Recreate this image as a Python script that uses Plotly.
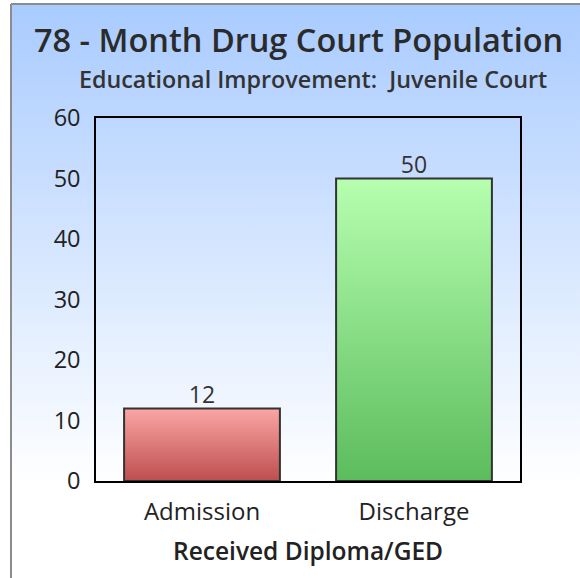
import base64
import plotly.graph_objects as go

# ---- data ----
categories = ["Admission", "Discharge"]
values = [12, 50]
y_ticks = [0, 10, 20, 30, 40, 50, 60]
title = "78 - Month Drug Court Population"
subtitle = "Educational Improvement:  Juvenile Court"
x_title = "Received Diploma/GED"

# ---- style ----
W, H = 580, 578
bar_half = 0.3675
bar_top_colors = ["#fba6a6", "#b6ffb0"]
bar_bottom_colors = ["#be4e4e", "#5cbc5c"]
FONT = "Open Sans"

def px(x):
    return x / W

def py(y):
    return 1 - y / H

svg = (
    f'<svg xmlns="http://www.w3.org/2000/svg" width="{W}" height="{H}" viewBox="0 0 {W} {H}" preserveAspectRatio="none">'
    '<defs><linearGradient id="g" x1="0" y1="0" x2="0" y2="1">'
    '<stop offset="0" stop-color="#a9cbff"/><stop offset="1" stop-color="#ffffff"/>'
    '</linearGradient></defs>'
    f'<rect x="11" y="4" width="{W-11}" height="480" fill="url(#g)"/>'
    '</svg>'
)
svg_uri = "data:image/svg+xml;base64," + base64.b64encode(svg.encode()).decode()

fig = go.Figure()

for i, (cat, v) in enumerate(zip(categories, values)):
    xs = [i - bar_half, i - bar_half, i + bar_half, i + bar_half, i - bar_half]
    ys = [0, v, v, 0, 0]
    fig.add_trace(go.Scatter(
        x=xs, y=ys, mode="lines", fill="toself",
        fillgradient=dict(type="vertical",
                          colorscale=[[0, bar_bottom_colors[i]], [1, bar_top_colors[i]]]),
        line=dict(color="#333333", width=2),
        hoverinfo="skip", showlegend=False,
    ))

fig.add_trace(go.Scatter(
    x=list(range(len(categories))), y=values, mode="text",
    text=[str(v) for v in values], textposition="top center",
    textfont=dict(family=FONT, size=23, color="#333333"),
    showlegend=False, hoverinfo="skip",
))

fig.update_layout(
    width=W, height=H,
    margin=dict(l=0, r=0, t=0, b=0, pad=0),
    paper_bgcolor="white",
    plot_bgcolor="rgba(0,0,0,0)",
    font=dict(family=FONT, size=23, color="#333333"),
    xaxis=dict(
        domain=[px(96), px(520)], range=[-0.5, 1.5], automargin=False,
        tickvals=list(range(len(categories))), ticktext=categories,
        showline=True, mirror=True, linecolor="black", linewidth=1.5,
        showgrid=False, zeroline=False, ticks="", ticklabelstandoff=8,
        tickfont=dict(family=FONT, size=24, color="#222222"),
        fixedrange=True,
    ),
    yaxis=dict(
        domain=[py(481), py(118)], range=[0, 60], automargin=False,
        tickvals=y_ticks,
        showline=True, mirror=True, linecolor="black", linewidth=1.5,
        showgrid=False, zeroline=False, ticks="", ticklabelstandoff=9,
        tickfont=dict(family=FONT, size=23.5, color="#222222"),
        fixedrange=True,
    ),
    images=[dict(source=svg_uri, xref="paper", yref="paper", x=0, y=1,
                 sizex=1, sizey=1, sizing="stretch", layer="below",
                 xanchor="left", yanchor="top")],
    shapes=[
        dict(type="line", xref="paper", yref="paper", x0=px(11), x1=px(11), y0=0, y1=py(4),
             line=dict(color="#8c8c8c", width=2)),
        dict(type="line", xref="paper", yref="paper", x0=px(11), x1=1, y0=py(4), y1=py(4),
             line=dict(color="#8c8c8c", width=2)),
    ],
    annotations=[
        dict(text=title, xref="paper", yref="paper", x=px(298.5), y=py(40),
             xanchor="center", yanchor="middle",
             showarrow=False, font=dict(family=FONT, size=32.5, color="#2b2b2b", weight=600)),
        dict(text=subtitle, xref="paper", yref="paper", x=px(312.5), y=py(79),
             xanchor="center", yanchor="middle",
             showarrow=False, font=dict(family=FONT, size=23.3, color="#333333", weight=600)),
        dict(text=x_title, xref="paper", yref="paper", x=px(308), y=py(550),
             xanchor="center", yanchor="middle",
             showarrow=False, font=dict(family=FONT, size=24.5, color="#222222", weight=600)),
    ],
)

fig.write_html("out.html", post_script="document.body.style.margin='0';",
               config={"displayModeBar": False})
